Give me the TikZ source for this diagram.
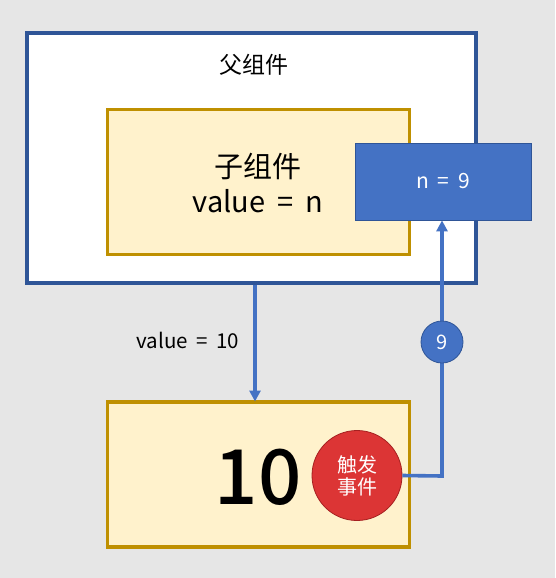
\documentclass[tikz,border=0pt]{standalone}
\usepackage{fontspec}
\setmainfont{Noto Sans CJK SC}
\newfontfamily\tenfont{Noto Sans CJK SC Medium}
\usetikzlibrary{arrows.meta}
\definecolor{bg}{HTML}{E6E6E6}
\definecolor{pblue}{HTML}{2F5597}
\definecolor{mblue}{HTML}{4472C4}
\definecolor{gold}{HTML}{BF9000}
\definecolor{cream}{HTML}{FFF2CC}
\definecolor{ered}{HTML}{DC3535}
\definecolor{dred}{HTML}{A52020}
\newcommand{\wsp}{\hspace{0.42em}}
\tikzset{
  parentbox/.style={draw=pblue,line width=4.5pt,fill=white,rectangle,inner sep=0pt},
  childbox/.style={draw=gold,line width=3.2pt,fill=cream,rectangle,inner sep=0pt},
  statebox/.style={draw=pblue,line width=0.8pt,fill=mblue,rectangle,inner sep=0pt,text=white},
  flow/.style={draw=mblue,line width=3.6pt,-{Triangle[width=11pt,length=11pt]}},
  evt/.style={circle,fill=ered,draw=dred,line width=0.8pt,inner sep=0pt,minimum size=90pt,text=white},
  numdot/.style={circle,fill=mblue,draw=pblue,line width=0.8pt,inner sep=0pt,minimum size=42pt,text=white},
}
\begin{document}
\begin{tikzpicture}[x=1pt,y=-1pt]
\fill[bg] (0,0) rectangle (555,578);
\useasboundingbox (0,0) rectangle (555,578);
\node[parentbox,minimum width=449pt,minimum height=250pt] (parent) at (251.5,158) {};
\node[font=\fontsize{23}{26}\selectfont] (ptitle) at (254,65) {父组件};
\node[childbox,minimum width=302pt,minimum height=145pt] (child) at (258.5,182) {};
\node[font=\fontsize{29}{34}\selectfont,align=center] (ctext) at (258,183) {子组件\\[1pt]value\wsp=\wsp n};
\node[statebox,minimum width=176pt,minimum height=77pt,font=\fontsize{21}{24}\selectfont] (state) at (443,181.5) {n\wsp=\wsp 9};
\node[childbox,minimum width=302pt,minimum height=145pt] (bottom) at (258.5,474.5) {};
\node[font=\fontsize{76}{80}\selectfont\tenfont] (ten) at (258,477) {10};
\node[evt,font=\fontsize{20}{24}\selectfont,align=center] (trigger) at (357,475.5) {触发\\[-2pt]事件};
\coordinate (down0) at (255,285);
\coordinate (down1) at (255,401.5);
\draw[flow] (down0) -- (down1);
\node[font=\fontsize{20.5}{24}\selectfont] (vlabel) at (188,340) {value\wsp=\wsp 10};
\coordinate (corner) at (442,476);
\draw[flow] (trigger.east) -- (corner) -- (state.south -| corner);
\node[numdot,font=\fontsize{20}{24}\selectfont] (nine) at (442,342) {9};
\end{tikzpicture}
\end{document}
